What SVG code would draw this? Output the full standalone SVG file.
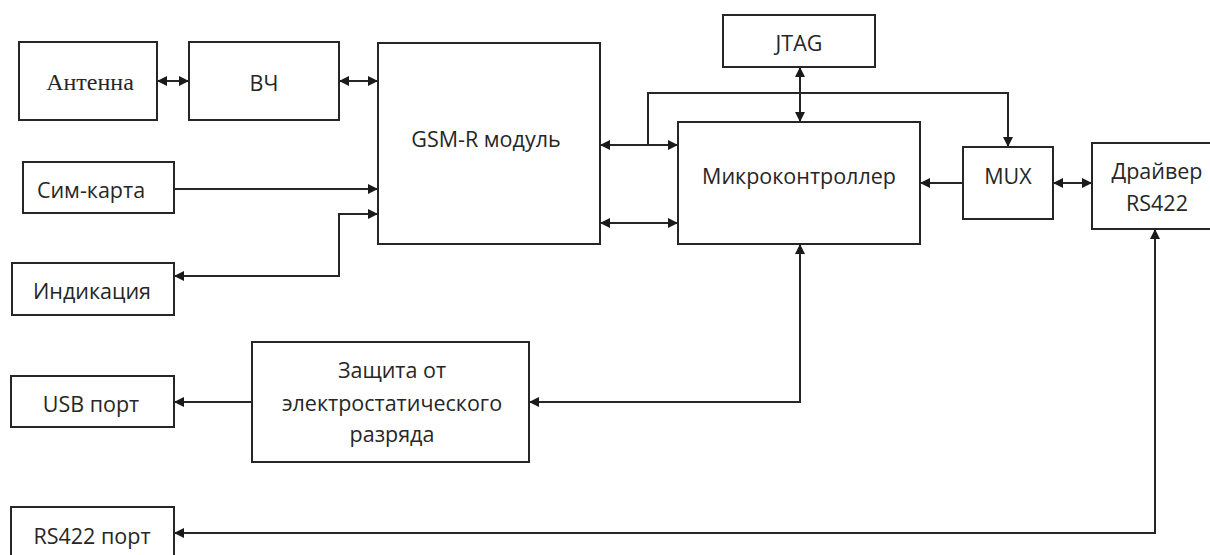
<svg xmlns="http://www.w3.org/2000/svg" width="1210" height="555" viewBox="0 0 1210 555">
<style>
.box{fill:#fff;stroke:#262626;stroke-width:2}
.t{font-family:"Open Sans","Noto Sans","Liberation Sans",sans-serif;font-size:21.5px;fill:#262626;text-anchor:middle;dominant-baseline:central}
.ts{font-family:"Liberation Serif","DejaVu Serif",serif;font-size:24px;fill:#262626;text-anchor:middle;dominant-baseline:central}
.c{fill:none;stroke:#262626;stroke-width:2}
.one{marker-end:url(#ah)}
.two{marker-start:url(#ah);marker-end:url(#ah)}
</style>
<defs>
<marker id="ah" viewBox="0 0 10 10" refX="10" refY="5" markerWidth="11" markerHeight="10" markerUnits="userSpaceOnUse" orient="auto-start-reverse">
<path d="M0,0 L10,5 L0,10 z" fill="#1a1a1a"/>
</marker>
</defs>
<rect width="1210" height="555" fill="#fff"/>
<g id="connectors">
<path class="c two" d="M157,81 H189"/>
<path class="c two" d="M339,81 H378"/>
<path class="c one" d="M174,189 H378"/>
<path class="c two" d="M378,214 H339 V276 H174"/>
<path class="c two" d="M600,145 H678"/>
<path class="c two" d="M600,223 H678"/>
<path class="c one" d="M648,145 V93 H1008 V147"/>
<path class="c two" d="M800,67 V122"/>
<path class="c one" d="M963,183 H920"/>
<path class="c two" d="M1053,183 H1092"/>
<path class="c two" d="M800,244 V402 H529"/>
<path class="c one" d="M252,402 H174"/>
<path class="c two" d="M1155,229 V533 H174"/>
</g>
<g id="antenna"><rect class="box" x="19" y="42" width="138" height="78"/><text class="ts" x="90" y="82">Антенна</text></g>
<g id="vch"><rect class="box" x="189" y="42" width="150" height="78"/><text class="t" x="264" y="82">ВЧ</text></g>
<g id="gsm"><rect class="box" x="378" y="43" width="222" height="201"/><text class="t" x="486" y="138">GSM-R модуль</text></g>
<g id="sim"><rect class="box" x="23" y="162" width="151" height="51"/><text class="t" x="91" y="189">Сим-карта</text></g>
<g id="indication"><rect class="box" x="12" y="263" width="162" height="52"/><text class="t" x="92" y="290">Индикация</text></g>
<g id="jtag"><rect class="box" x="723" y="15" width="152" height="52"/><text class="t" x="799" y="42">JTAG</text></g>
<g id="mcu"><rect class="box" x="678" y="122" width="242" height="122"/><text class="t" x="799" y="175">Микроконтроллер</text></g>
<g id="mux"><rect class="box" x="963" y="147" width="90" height="72"/><text class="t" x="1008" y="175">MUX</text></g>
<g id="driver"><rect class="box" x="1092" y="143" width="130" height="86"/><text class="t" x="1157" y="170">Драйвер</text><text class="t" x="1157" y="202">RS422</text></g>
<g id="esd"><rect class="box" x="252" y="342" width="277" height="120"/><text class="t" x="392" y="369">Защита от</text><text class="t" x="392" y="402">электростатического</text><text class="t" x="392" y="433">разряда</text></g>
<g id="usb"><rect class="box" x="11" y="376" width="163" height="51"/><text class="t" x="91" y="403">USB порт</text></g>
<g id="rs422port"><rect class="box" x="11" y="507" width="163" height="60"/><text class="t" x="92" y="535">RS422 порт</text></g>
</svg>
